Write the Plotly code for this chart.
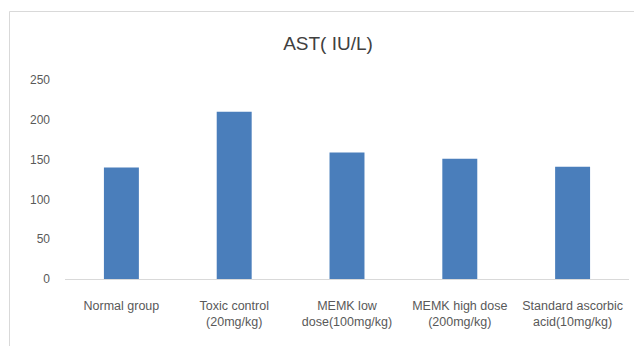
import plotly.graph_objects as go

categories = ["Normal group", "Toxic control<br>(20mg/kg)", "MEMK low<br>dose(100mg/kg)",
              "MEMK high dose<br>(200mg/kg)", "Standard ascorbic<br>acid(10mg/kg)"]
ast_values = [140, 210, 159, 151, 141]
y_ticks = [0, 50, 100, 150, 200, 250]

# page has an 8px body margin; work in page pixels and convert
OFF = 8
W, H = 642 - 2 * OFF, 354 - 2 * OFF
L = 65 - OFF
R = W - (629 - OFF)
T = 80 - OFF
B = H - (279 - OFF)
pw, ph = W - L - R, H - T - B

def px_to_paper_x(px):
    return (px - OFF - L) / pw

def px_to_paper_y(py):
    return (H - B - (py - OFF)) / ph

font_family = "Liberation Sans Narrow, Arial Narrow, Liberation Sans, sans-serif"
border = dict(color="#d9d9d9", width=1)

fig = go.Figure(go.Bar(
    x=categories, y=ast_values,
    marker=dict(color="#4a7ebb", line=dict(width=0)),
    width=0.31,
))

fig.update_layout(
    width=W, height=H,
    margin=dict(l=L, r=R, t=T, b=B, autoexpand=False),
    paper_bgcolor="white", plot_bgcolor="white",
    showlegend=False,
    font=dict(family=font_family, color="#595959", size=12),
    title=dict(text="AST( IU/L)", x=px_to_paper_x(328), xref="paper", xanchor="center",
               y=1 - (43 - OFF) / H, yanchor="middle",
               font=dict(size=19, color="#404040", family=font_family)),
    xaxis=dict(showgrid=False, showline=True, linecolor="#d9d9d9", linewidth=1,
               ticks="", ticklabelstandoff=15,
               tickfont=dict(size=12.5, color="#595959"), fixedrange=True),
    yaxis=dict(range=[0, 250], tickvals=y_ticks, showgrid=False, zeroline=False,
               showline=False, ticks="", ticklabelstandoff=14,
               tickfont=dict(size=12, color="#595959"), fixedrange=True),
    shapes=[
        dict(type="line", xref="paper", yref="paper",
             x0=px_to_paper_x(9.5), x1=px_to_paper_x(660),
             y0=px_to_paper_y(11.5), y1=px_to_paper_y(11.5), line=border, layer="below"),
        dict(type="line", xref="paper", yref="paper",
             x0=px_to_paper_x(9.5), x1=px_to_paper_x(9.5),
             y0=px_to_paper_y(11.5), y1=px_to_paper_y(380), line=border, layer="below"),
    ],
)

fig.write_html("out.html", config={"staticPlot": True, "displayModeBar": False})
